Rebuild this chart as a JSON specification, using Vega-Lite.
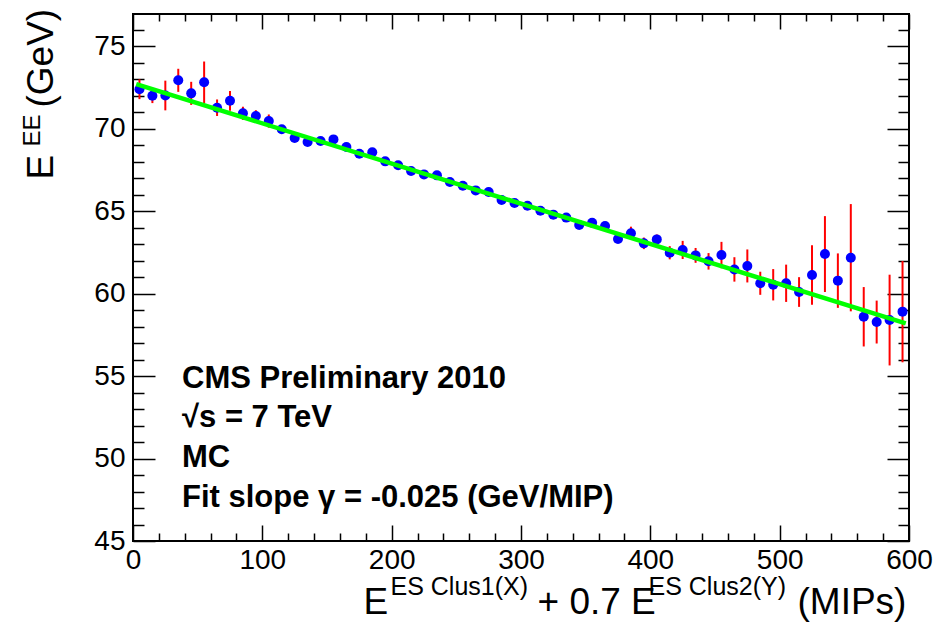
{
  "$schema": "https://vega.github.io/schema/vega-lite/v6.json",
  "autosize": {"type": "none"},
  "width": 776,
  "height": 527,
  "padding": {"left": 133, "top": 14, "right": 28, "bottom": 82},
  "background": "white",
  "config": {
    "view": {"stroke": "black", "strokeWidth": 2},
    "font": "Liberation Sans",
    "axis": {
      "grid": false,
      "domain": false,
      "tickColor": "black",
      "tickWidth": 1.5,
      "labelFont": "Liberation Sans",
      "labelColor": "black",
      "labelFontSize": 28,
      "titleFont": "Liberation Sans",
      "titleFontWeight": "normal",
      "titleColor": "black",
      "titleAlign": "left",
      "titleBaseline": "alphabetic",
      "titleAnchor": null
    }
  },
  "datasets": {
    "bins": [
      {"x": 5, "e": 72.38, "err": 0.6},
      {"x": 15, "e": 71.99, "err": 0.45},
      {"x": 25, "e": 72.0, "err": 0.9},
      {"x": 35, "e": 72.92, "err": 0.7},
      {"x": 45, "e": 72.13, "err": 0.7},
      {"x": 55, "e": 72.8, "err": 1.26},
      {"x": 65, "e": 71.26, "err": 0.5},
      {"x": 75, "e": 71.68, "err": 0.6},
      {"x": 85, "e": 70.92, "err": 0.4},
      {"x": 95, "e": 70.76, "err": 0.35},
      {"x": 105, "e": 70.45, "err": 0.4},
      {"x": 115, "e": 69.95, "err": 0.2},
      {"x": 125, "e": 69.42, "err": 0.15},
      {"x": 135, "e": 69.18, "err": 0.15},
      {"x": 145, "e": 69.24, "err": 0.15},
      {"x": 155, "e": 69.34, "err": 0.15},
      {"x": 165, "e": 68.88, "err": 0.15},
      {"x": 175, "e": 68.47, "err": 0.15},
      {"x": 185, "e": 68.56, "err": 0.15},
      {"x": 195, "e": 68.01, "err": 0.15},
      {"x": 205, "e": 67.77, "err": 0.15},
      {"x": 215, "e": 67.42, "err": 0.15},
      {"x": 225, "e": 67.22, "err": 0.15},
      {"x": 235, "e": 67.16, "err": 0.15},
      {"x": 245, "e": 66.76, "err": 0.15},
      {"x": 255, "e": 66.53, "err": 0.15},
      {"x": 265, "e": 66.25, "err": 0.15},
      {"x": 275, "e": 66.15, "err": 0.15},
      {"x": 285, "e": 65.67, "err": 0.15},
      {"x": 295, "e": 65.48, "err": 0.15},
      {"x": 305, "e": 65.32, "err": 0.15},
      {"x": 315, "e": 65.02, "err": 0.15},
      {"x": 325, "e": 64.78, "err": 0.15},
      {"x": 335, "e": 64.6, "err": 0.15},
      {"x": 345, "e": 64.15, "err": 0.15},
      {"x": 355, "e": 64.29, "err": 0.15},
      {"x": 365, "e": 64.09, "err": 0.15},
      {"x": 375, "e": 63.3, "err": 0.2},
      {"x": 385, "e": 63.65, "err": 0.4},
      {"x": 395, "e": 63.04, "err": 0.35},
      {"x": 405, "e": 63.28, "err": 0.3},
      {"x": 415, "e": 62.47, "err": 0.4},
      {"x": 425, "e": 62.64, "err": 0.55},
      {"x": 435, "e": 62.31, "err": 0.45},
      {"x": 445, "e": 61.95, "err": 0.5},
      {"x": 455, "e": 62.33, "err": 0.8},
      {"x": 465, "e": 61.46, "err": 0.74},
      {"x": 475, "e": 61.67, "err": 1.0},
      {"x": 485, "e": 60.62, "err": 0.7},
      {"x": 495, "e": 60.53, "err": 0.95},
      {"x": 505, "e": 60.62, "err": 1.13},
      {"x": 515, "e": 60.09, "err": 0.9},
      {"x": 525, "e": 61.12, "err": 1.8},
      {"x": 535, "e": 62.39, "err": 2.3},
      {"x": 545, "e": 60.78, "err": 1.65},
      {"x": 555, "e": 62.17, "err": 3.25},
      {"x": 565, "e": 58.59, "err": 1.8},
      {"x": 575, "e": 58.27, "err": 1.3},
      {"x": 585, "e": 58.39, "err": 2.75},
      {"x": 595, "e": 58.9, "err": 3.07}
    ],
    "fit": [
      {"x": 2.5, "e": 72.69},
      {"x": 597.5, "e": 58.19}
    ],
    "notes1": [
      {"x": 37.9, "e": 54.27, "label": "CMS Preliminary 2010"},
      {"x": 37.9, "e": 51.91, "label": "√s = 7 TeV"}
    ],
    "notes2": [
      {"x": 37.9, "e": 49.49, "label": "MC"},
      {"x": 37.9, "e": 47.06, "label": "Fit slope γ = -0.025 (GeV/MIP)"}
    ]
  },
  "resolve": {"axis": {"x": "independent", "y": "independent"}},
  "layer": [
    {
      "data": {"name": "bins"},
      "transform": [
        {"calculate": "datum.e - datum.err", "as": "lo"},
        {"calculate": "datum.e + datum.err", "as": "hi"}
      ],
      "mark": {"type": "rule", "color": "#ff0000", "strokeWidth": 2},
      "encoding": {
        "x": {
          "field": "x", "type": "quantitative",
          "scale": {"domain": [0, 600], "nice": false, "zero": false},
          "axis": {
            "orient": "bottom",
            "values": [0, 100, 200, 300, 400, 500, 600],
            "tickSize": -16,
            "labelPadding": 21,
            "labelFlush": false,
            "title": "E",
            "titleFontSize": 37,
            "titleX": 230,
            "titleY": 72
          }
        },
        "y": {
          "field": "lo", "type": "quantitative",
          "scale": {"domain": [45, 76.94], "nice": false, "zero": false},
          "axis": {
            "orient": "left",
            "values": [45, 50, 55, 60, 65, 70, 75],
            "tickSize": -22,
            "labelPadding": 30,
            "labelFlush": false,
            "title": "E",
            "titleFontSize": 37,
            "titleAngle": 270,
            "titleX": -81,
            "titleY": 165
          }
        },
        "y2": {"field": "hi"}
      }
    },
    {
      "data": {"name": "bins"},
      "mark": {"type": "point", "filled": true, "color": "#0000ff", "opacity": 1, "size": 100},
      "encoding": {
        "x": {
          "field": "x", "type": "quantitative",
          "scale": {"domain": [0, 600], "nice": false, "zero": false},
          "axis": {
            "orient": "bottom",
            "values": [20, 40, 60, 80, 120, 140, 160, 180, 220, 240, 260, 280, 320, 340, 360, 380, 420, 440, 460, 480, 520, 540, 560, 580],
            "tickSize": -8,
            "labels": false,
            "title": "ES Clus1(X)",
            "titleFontSize": 25,
            "titleX": 257,
            "titleY": 53
          }
        },
        "y": {
          "field": "e", "type": "quantitative",
          "scale": {"domain": [45, 76.94], "nice": false, "zero": false},
          "axis": {
            "orient": "left",
            "values": [46, 47, 48, 49, 51, 52, 53, 54, 56, 57, 58, 59, 61, 62, 63, 64, 66, 67, 68, 69, 71, 72, 73, 74, 76],
            "tickSize": -11,
            "labels": false,
            "title": "EE",
            "titleFontSize": 24,
            "titleAngle": 270,
            "titleX": -94,
            "titleY": 132
          }
        }
      }
    },
    {
      "data": {"name": "fit"},
      "mark": {"type": "line", "color": "#00ff00", "strokeWidth": 4.5},
      "encoding": {
        "x": {
          "field": "x", "type": "quantitative",
          "scale": {"domain": [0, 600], "nice": false, "zero": false},
          "axis": {
            "orient": "top",
            "values": [0, 100, 200, 300, 400, 500, 600],
            "tickSize": -15,
            "labels": false,
            "title": "+ 0.7 E",
            "titleFontSize": 37,
            "titleX": 404,
            "titleY": 599
          }
        },
        "y": {
          "field": "e", "type": "quantitative",
          "scale": {"domain": [45, 76.94], "nice": false, "zero": false},
          "axis": {
            "orient": "right",
            "values": [45, 50, 55, 60, 65, 70, 75],
            "tickSize": -22,
            "labels": false,
            "title": "(GeV)",
            "titleFontSize": 37,
            "titleAngle": 270,
            "titleX": -857,
            "titleY": 93
          }
        }
      }
    },
    {
      "data": {"name": "notes1"},
      "mark": {"type": "text", "font": "Liberation Sans", "fontWeight": "bold", "fontSize": 31, "align": "left", "baseline": "alphabetic", "color": "black"},
      "encoding": {
        "x": {
          "field": "x", "type": "quantitative",
          "scale": {"domain": [0, 600], "nice": false, "zero": false},
          "axis": {
            "orient": "top",
            "values": [20, 40, 60, 80, 120, 140, 160, 180, 220, 240, 260, 280, 320, 340, 360, 380, 420, 440, 460, 480, 520, 540, 560, 580],
            "tickSize": -7,
            "labels": false,
            "title": "ES Clus2(Y)",
            "titleFontSize": 25,
            "titleX": 515,
            "titleY": 580
          }
        },
        "y": {
          "field": "e", "type": "quantitative",
          "scale": {"domain": [45, 76.94], "nice": false, "zero": false},
          "axis": {
            "orient": "right",
            "values": [46, 47, 48, 49, 51, 52, 53, 54, 56, 57, 58, 59, 61, 62, 63, 64, 66, 67, 68, 69, 71, 72, 73, 74, 76],
            "tickSize": -11,
            "labels": false,
            "title": null
          }
        },
        "text": {"field": "label"}
      }
    },
    {
      "data": {"name": "notes2"},
      "mark": {"type": "text", "font": "Liberation Sans", "fontWeight": "bold", "fontSize": 31, "align": "left", "baseline": "alphabetic", "color": "black"},
      "encoding": {
        "x": {
          "field": "x", "type": "quantitative",
          "scale": {"domain": [0, 600], "nice": false, "zero": false},
          "axis": {
            "orient": "bottom",
            "ticks": false,
            "labels": false,
            "domain": false,
            "title": "(MIPs)",
            "titleFontSize": 37,
            "titleX": 664,
            "titleY": 72
          }
        },
        "y": {
          "field": "e", "type": "quantitative",
          "scale": {"domain": [45, 76.94], "nice": false, "zero": false},
          "axis": null
        },
        "text": {"field": "label"}
      }
    }
  ]
}
